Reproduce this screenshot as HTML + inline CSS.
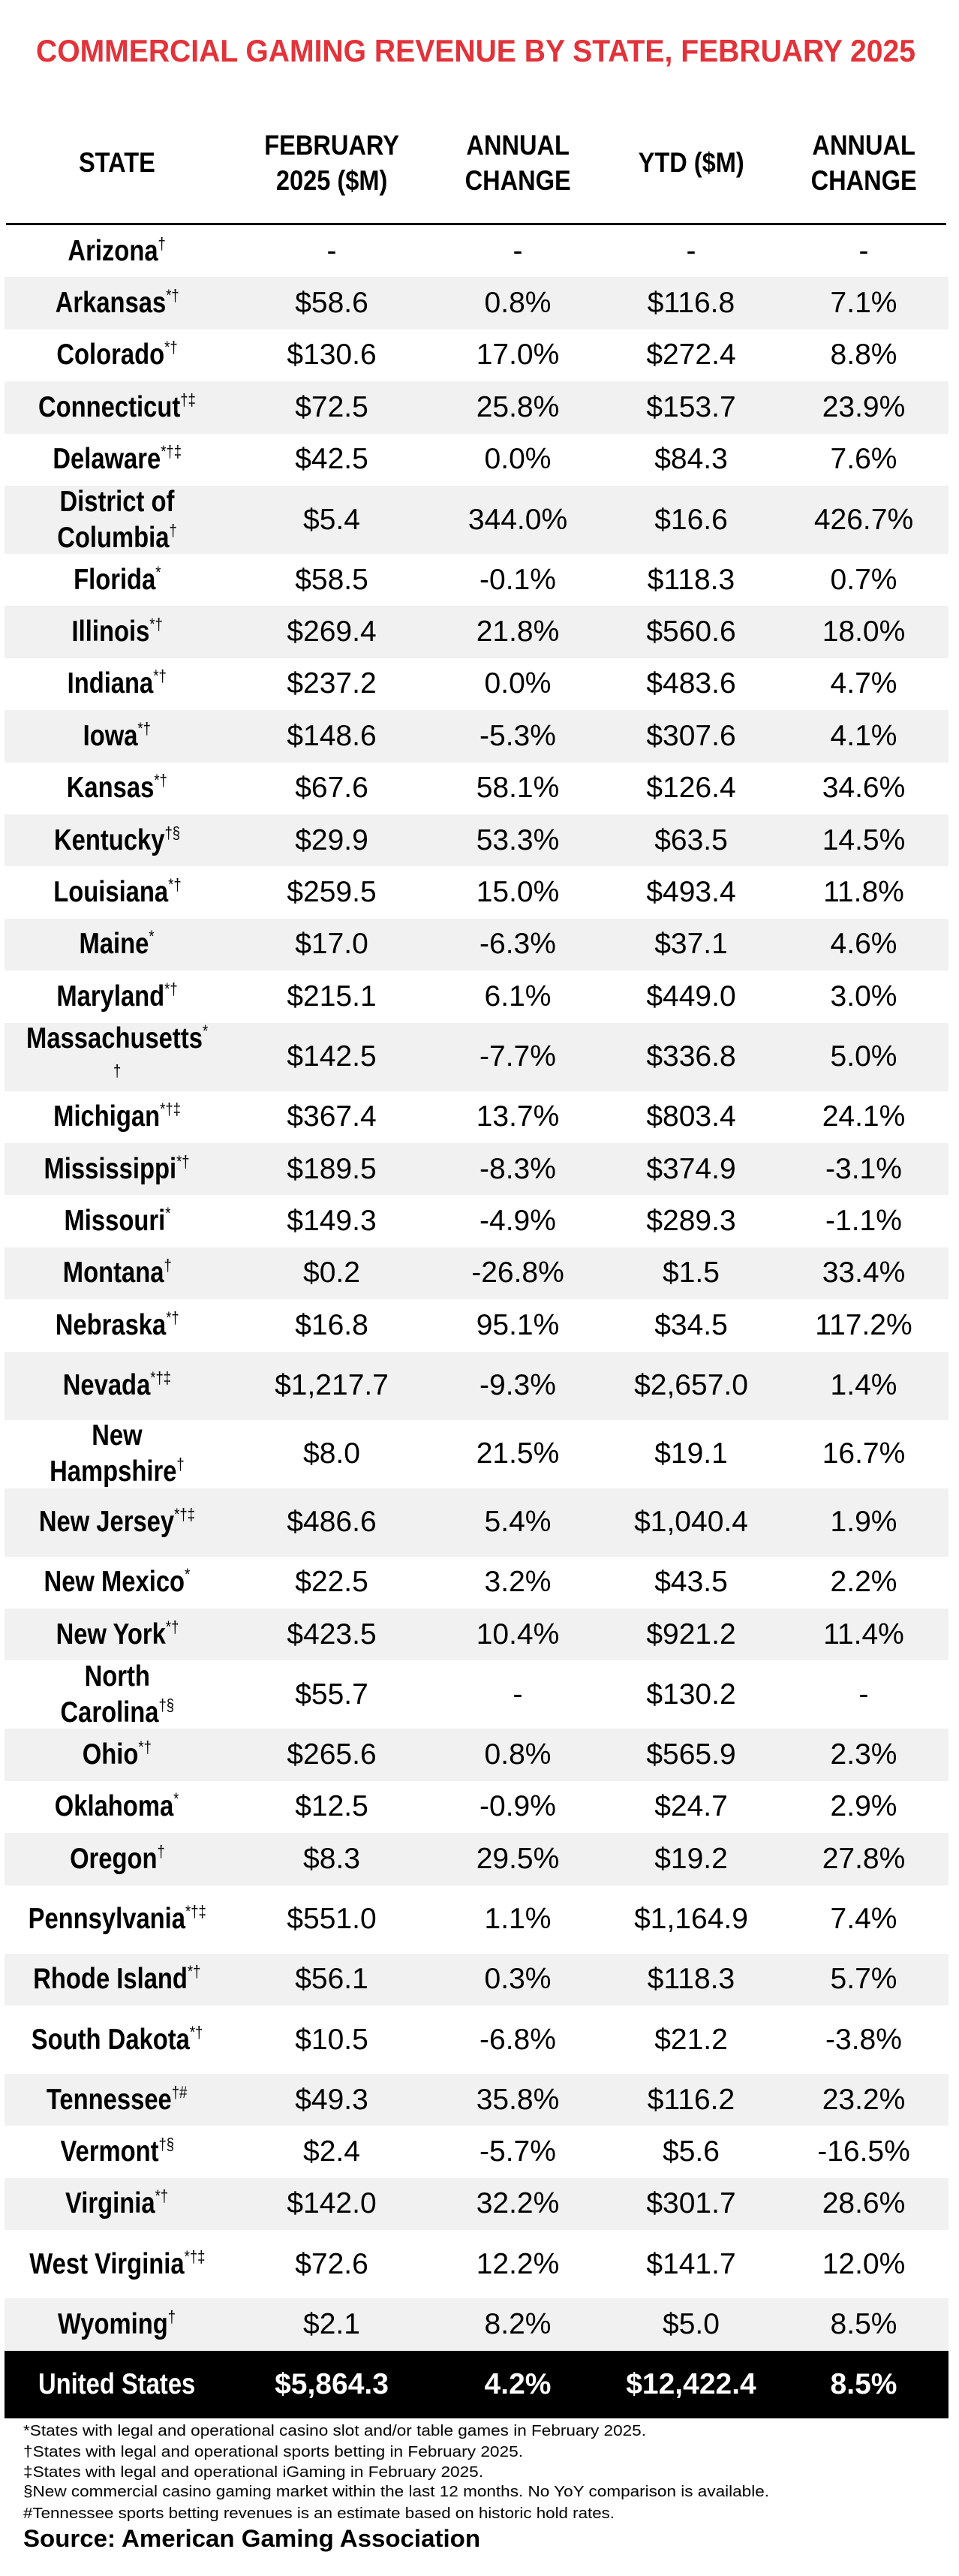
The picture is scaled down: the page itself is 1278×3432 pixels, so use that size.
<!DOCTYPE html>
<html><head><meta charset="utf-8">
<style>
html,body{margin:0;padding:0;background:#fff;}
body{width:1278px;height:3432px;position:relative;overflow:hidden;font-family:"Liberation Sans",sans-serif;color:#000;}
.abs{position:absolute;}
.row{position:absolute;left:6px;width:1258px;}
.cell{position:absolute;width:300px;display:flex;align-items:center;justify-content:center;text-align:center;white-space:nowrap;}
.st{display:inline-block;font-weight:bold;font-size:39px;line-height:48px;transform:scaleX(.84);transform-origin:center;}
.st .mk{font-size:22px;font-weight:normal;vertical-align:baseline;position:relative;top:-15px;line-height:0;}
.st .mk2{font-size:22px;font-weight:normal;position:relative;top:-10px;line-height:0;}
.num{font-size:39px;line-height:48px;}
.hd{display:inline-block;font-weight:bold;font-size:37px;line-height:47px;transform:scaleX(.88);transform-origin:center;}
.us .num{font-weight:bold;color:#fff;}
.us .st{color:#fff;}
</style></head>
<body>
<svg class="abs" style="left:0;top:0" width="1278" height="110">
<text x="48" y="82" font-family="Liberation Sans, sans-serif" font-weight="bold" font-size="42" fill="#e2323a" textLength="1172" lengthAdjust="spacingAndGlyphs">COMMERCIAL GAMING REVENUE BY STATE, FEBRUARY 2025</text>
</svg>

<div class="cell" style="left:6px;top:186px;height:60px"><span class="hd">STATE</span></div>
<div class="cell" style="left:292px;top:170px;height:94px"><span class="hd">FEBRUARY<br>2025 ($M)</span></div>
<div class="cell" style="left:540px;top:170px;height:94px"><span class="hd">ANNUAL<br>CHANGE</span></div>
<div class="cell" style="left:771px;top:186px;height:60px"><span class="hd">YTD ($M)</span></div>
<div class="cell" style="left:1001px;top:170px;height:94px"><span class="hd">ANNUAL<br>CHANGE</span></div>
<div class="abs" style="left:8px;top:297px;width:1253px;height:5px;background:#000"></div>

<div id="rows"></div>

<svg class="abs" style="left:0;top:3222px" width="1278" height="210">
<text x="31" y="23" font-family="Liberation Sans, sans-serif" font-size="20" textLength="830" lengthAdjust="spacingAndGlyphs">*States with legal and operational casino slot and/or table games in February 2025.</text>
<text x="31" y="51" font-family="Liberation Sans, sans-serif" font-size="20" textLength="666" lengthAdjust="spacingAndGlyphs">†States with legal and operational sports betting in February 2025.</text>
<text x="31" y="78" font-family="Liberation Sans, sans-serif" font-size="20" textLength="613" lengthAdjust="spacingAndGlyphs">‡States with legal and operational iGaming in February 2025.</text>
<text x="31" y="104" font-family="Liberation Sans, sans-serif" font-size="20" textLength="994" lengthAdjust="spacingAndGlyphs">§New commercial casino gaming market within the last 12 months. No YoY comparison is available.</text>
<text x="31" y="133" font-family="Liberation Sans, sans-serif" font-size="20" textLength="788" lengthAdjust="spacingAndGlyphs">#Tennessee sports betting revenues is an estimate based on historic hold rates.</text>
<text x="31" y="171" font-family="Liberation Sans, sans-serif" font-size="32" font-weight="bold" textLength="609" lengthAdjust="spacingAndGlyphs">Source: American Gaming Association</text>
</svg>

<script>
const states = ["Arizona","Arkansas","Colorado","Connecticut","Delaware","District of|Columbia","Florida","Illinois","Indiana","Iowa","Kansas","Kentucky","Louisiana","Maine","Maryland","Massachusetts","Michigan","Mississippi","Missouri","Montana","Nebraska","Nevada","New|Hampshire","New Jersey","New Mexico","New York","North|Carolina","Ohio","Oklahoma","Oregon","Pennsylvania","Rhode Island","South Dakota","Tennessee","Vermont","Virginia","West Virginia","Wyoming"];
const marks = ["†","*†","*†","†‡","*†‡","†","*","*†","*†","*†","*†","†§","*†","*","*†","*|†","*†‡","*†","*","†","*†","*†‡","†","*†‡","*","*†","†§","*†","*","†","*†‡","*†","*†","†#","†§","*†","*†‡","†"];
const febRevenue = ["-","$58.6","$130.6","$72.5","$42.5","$5.4","$58.5","$269.4","$237.2","$148.6","$67.6","$29.9","$259.5","$17.0","$215.1","$142.5","$367.4","$189.5","$149.3","$0.2","$16.8","$1,217.7","$8.0","$486.6","$22.5","$423.5","$55.7","$265.6","$12.5","$8.3","$551.0","$56.1","$10.5","$49.3","$2.4","$142.0","$72.6","$2.1"];
const febChange = ["-","0.8%","17.0%","25.8%","0.0%","344.0%","-0.1%","21.8%","0.0%","-5.3%","58.1%","53.3%","15.0%","-6.3%","6.1%","-7.7%","13.7%","-8.3%","-4.9%","-26.8%","95.1%","-9.3%","21.5%","5.4%","3.2%","10.4%","-","0.8%","-0.9%","29.5%","1.1%","0.3%","-6.8%","35.8%","-5.7%","32.2%","12.2%","8.2%"];
const ytdRevenue = ["-","$116.8","$272.4","$153.7","$84.3","$16.6","$118.3","$560.6","$483.6","$307.6","$126.4","$63.5","$493.4","$37.1","$449.0","$336.8","$803.4","$374.9","$289.3","$1.5","$34.5","$2,657.0","$19.1","$1,040.4","$43.5","$921.2","$130.2","$565.9","$24.7","$19.2","$1,164.9","$118.3","$21.2","$116.2","$5.6","$301.7","$141.7","$5.0"];
const ytdChange = ["-","7.1%","8.8%","23.9%","7.6%","426.7%","0.7%","18.0%","4.7%","4.1%","34.6%","14.5%","11.8%","4.6%","3.0%","5.0%","24.1%","-3.1%","-1.1%","33.4%","117.2%","1.4%","16.7%","1.9%","2.2%","11.4%","-","2.3%","2.9%","27.8%","7.4%","5.7%","-3.8%","23.2%","-16.5%","28.6%","12.0%","8.5%"];
const totalLabel = "United States";
const totalValues = ["$5,864.3","4.2%","$12,422.4","8.5%"];

const tallRows = new Set(["District of|Columbia","Massachusetts","Nevada","New|Hampshire","New Jersey","North|Carolina","Pennsylvania","South Dakota","West Virginia"]);
const colCenters = [156, 442, 690, 921, 1151];
const container = document.getElementById('rows');

function slug(s){return s.replace(/\|/g,' ').toLowerCase().replace(/[^a-z0-9]+/g,'-');}
function makeCell(row, cx, h, html, cls, name){
  const c = document.createElement('div');
  c.className = 'cell';
  c.style.left = (cx - 6 - 150) + 'px';
  c.style.top = '0px';
  c.style.height = h + 'px';
  c.innerHTML = '<span class="' + cls + '">' + html + '</span>';
  
  
  row.appendChild(c);
}

let y = 300;
states.forEach((s, i) => {
  const h = tallRows.has(s) ? 91 : 69.4;
  const row = document.createElement('div');
  row.className = 'row';
  row.style.top = y + 'px';
  row.style.height = h + 'px';
  row.style.background = (i % 2) ? '#f1f1f1' : '#ffffff';
  
  
  const m = marks[i].split('|');
  let nameHtml = s.split('|').join('<br>') + '<span class="mk">' + m[0] + '</span>';
  if (m.length > 1) nameHtml += '<br><span class="mk2">' + m[1] + '</span>';
  makeCell(row, colCenters[0], h, nameHtml, 'st', 'state-name');
  makeCell(row, colCenters[1], h, febRevenue[i], 'num', 'feb-revenue');
  makeCell(row, colCenters[2], h, febChange[i], 'num', 'feb-annual-change');
  makeCell(row, colCenters[3], h, ytdRevenue[i], 'num', 'ytd-revenue');
  makeCell(row, colCenters[4], h, ytdChange[i], 'num', 'ytd-annual-change');
  container.appendChild(row);
  y += h;
});

const us = document.createElement('div');
us.className = 'row us';
us.style.top = y + 'px';
us.style.height = '90px';
us.style.background = '#000';


makeCell(us, colCenters[0], 90, totalLabel, 'st', 'total-label');
totalValues.forEach((v, k) => {
  makeCell(us, colCenters[k + 1], 90, v, 'num', 'total-value');
});
container.appendChild(us);
</script>
</body></html>
